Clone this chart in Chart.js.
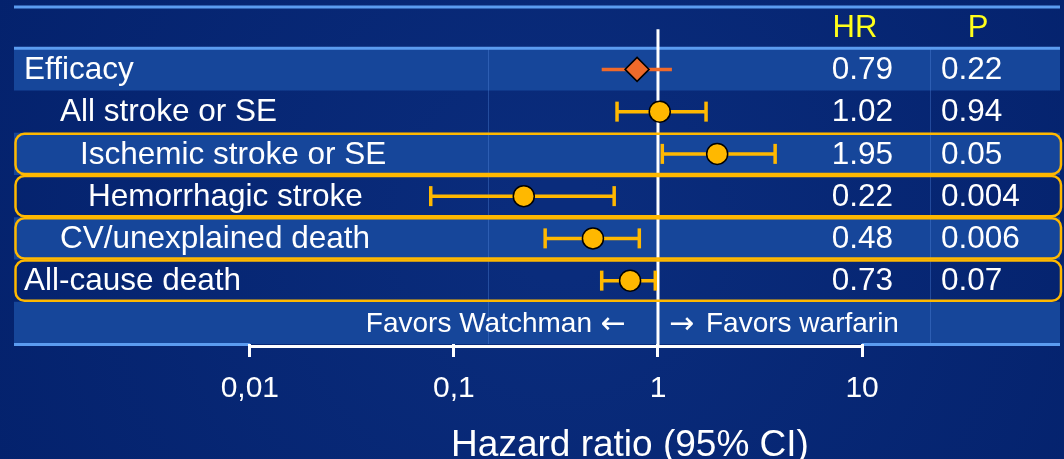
<!DOCTYPE html>
<html><head><meta charset="utf-8">
<script src="https://cdn.jsdelivr.net/npm/chart.js@4/dist/chart.umd.min.js"></script>
<style>html,body{margin:0;padding:0;background:#04236f;overflow:hidden}#wrap{width:1064px;height:459px}</style>
</head><body><div id="wrap"><canvas id="c" width="1064" height="459"></canvas></div>
<script>
// ---- data ----
const categories = ['Efficacy','All stroke or SE','Ischemic stroke or SE','Hemorrhagic stroke','CV/unexplained death','All-cause death'];
const hazardRatios = [0.79, 1.02, 1.95, 0.22, 0.48, 0.73];
const ciLower = [0.53, 0.63, 1.05, 0.077, 0.28, 0.53];
const ciUpper = [1.17, 1.72, 3.75, 0.61, 0.81, 0.97];
const hrLabels = ['0.79','1.02','1.95','0.22','0.48','0.73'];
const pValues = ['0.22','0.94','0.05','0.004','0.006','0.07'];
const tickValues = [0.01, 0.1, 1, 10];
const tickLabels = ['0,01','0,1','1','10'];
const columnHeaders = ['HR','P'];
const favorsLeft = 'Favors Watchman';
const favorsRight = 'Favors warfarin';
const arrowLeft = '\u2190', arrowRight = '\u2192';
const axisTitle = 'Hazard ratio (95% CI)';
const referenceValue = 1;

// ---- styles / layout ----
const FONT = "'Liberation Sans', Arial, sans-serif";
const ARROW_FONT = "'DejaVu Sans', sans-serif";
const labelIndent = [24, 60, 80, 88, 60, 24];
const boxedRows = [2, 3, 4, 5];
const TABLE_LEFT = 14;
const COL1_X = 488, COL2_X = 930;
const HR_RIGHT = 893, P_LEFT = 941;
const YELLOW = '#ffb800', ORANGE = '#f06a2a';
const NROWS = categories.length + 2;

const tablePlugin = {
  id: 'table',
  beforeDraw(chart) {
    const ctx = chart.ctx, ca = chart.chartArea, xs = chart.scales.x, ys = chart.scales.y;
    const W = chart.width, H = chart.height;
    const right = ca.right;
    // background
    const g = ctx.createRadialGradient(560, 230, 50, 560, 230, 720);
    g.addColorStop(0, '#0a2c7c'); g.addColorStop(1, '#03206a');
    ctx.save();
    ctx.fillStyle = g; ctx.fillRect(0, 0, W, H);
    // light bands
    ctx.fillStyle = '#16469a';
    for (let r = 1; r < NROWS; r += 2) {
      const t = ys.getPixelForValue(r), b = ys.getPixelForValue(r + 1);
      ctx.fillRect(TABLE_LEFT, t, right - TABLE_LEFT, b - t);
    }
    // column dividers
    ctx.strokeStyle = 'rgba(90,140,225,0.35)'; ctx.lineWidth = 1;
    [COL1_X, COL2_X].forEach(x => {
      ctx.beginPath(); ctx.moveTo(x + 0.5, ys.getPixelForValue(1)); ctx.lineTo(x + 0.5, ys.getPixelForValue(NROWS)); ctx.stroke();
    });
    // blue rules
    ctx.strokeStyle = '#5b9cf0'; ctx.lineWidth = 3;
    [0, 1].forEach(r => {
      const y = ys.getPixelForValue(r) + (r === 0 ? 1 : 0);
      ctx.beginPath(); ctx.moveTo(TABLE_LEFT, y); ctx.lineTo(right, y); ctx.stroke();
    });
    const xa = xs.getPixelForValue(tickValues[0]), xb = xs.getPixelForValue(tickValues[tickValues.length - 1]);
    const yb = ys.getPixelForValue(NROWS);
    ctx.beginPath(); ctx.moveTo(TABLE_LEFT, yb + 0.5); ctx.lineTo(xa, yb + 0.5); ctx.stroke();
    ctx.beginPath(); ctx.moveTo(xb, yb + 0.5); ctx.lineTo(right, yb + 0.5); ctx.stroke();
    // white axis line
    ctx.strokeStyle = '#ffffff';
    ctx.beginPath(); ctx.moveTo(xa - 1.5, yb + 2.5); ctx.lineTo(xb + 1.5, yb + 2.5); ctx.stroke();
    // reference line
    const xr = xs.getPixelForValue(referenceValue);
    ctx.beginPath(); ctx.moveTo(xr, ys.getPixelForValue(0.55)); ctx.lineTo(xr, yb + 3); ctx.stroke();
    // orange boxes
    ctx.strokeStyle = YELLOW; ctx.lineWidth = 2.5;
    boxedRows.forEach(i => {
      const r = i + 1;
      const t = ys.getPixelForValue(r) + 1, b = ys.getPixelForValue(r + 1) - 1;
      ctx.beginPath(); ctx.roundRect(TABLE_LEFT + 1.5, t, right - TABLE_LEFT - 0.5, b - t, 9); ctx.stroke();
    });
    // texts
    ctx.textBaseline = 'middle';
    const cy = r => ys.getPixelForValue(r + 0.5) + 1;
    ctx.font = '31px ' + FONT;
    ctx.fillStyle = '#ffff1a';
    ctx.textAlign = 'center';
    ctx.fillText(columnHeaders[0], 855, cy(0));
    ctx.fillText(columnHeaders[1], 978, cy(0));
    ctx.fillStyle = '#ffffff';
    categories.forEach((c, i) => {
      const y = cy(i + 1);
      ctx.font = '31.5px ' + FONT;
      ctx.textAlign = 'left'; ctx.fillText(c, labelIndent[i], y);
      ctx.textAlign = 'right'; ctx.fillText(hrLabels[i], HR_RIGHT, y);
      ctx.textAlign = 'left'; ctx.fillText(pValues[i], P_LEFT, y);
    });
    const yf = cy(NROWS - 1);
    ctx.font = '30px ' + ARROW_FONT;
    ctx.textAlign = 'right'; ctx.fillText(arrowLeft, xr - 32, yf + 1);
    ctx.textAlign = 'left'; ctx.fillText(arrowRight, xr + 11, yf + 1);
    ctx.font = '28px ' + FONT;
    ctx.textAlign = 'right'; ctx.fillText(favorsLeft, xr - 66, yf);
    ctx.textAlign = 'left'; ctx.fillText(favorsRight, xr + 48, yf);
    ctx.restore();
  },
  beforeDatasetsDraw(chart) {
    const ctx = chart.ctx, xs = chart.scales.x, ys = chart.scales.y;
    ctx.save();
    ctx.strokeStyle = YELLOW; ctx.lineWidth = 3.5;
    categories.forEach((c, i) => {
      if (i === 0) return;
      const y = ys.getPixelForValue(i + 1.5);
      [ciLower[i], ciUpper[i]].forEach(v => {
        const x = xs.getPixelForValue(v);
        ctx.beginPath(); ctx.moveTo(x, y - 10); ctx.lineTo(x, y + 10); ctx.stroke();
      });
    });
    ctx.restore();
  }
};

const pointDataset = {
  data: hazardRatios.map((v, i) => ({x: v, y: i + 1.5})),
  pointStyle: hazardRatios.map((v, i) => i === 0 ? 'rectRot' : 'circle'),
  pointRadius: hazardRatios.map((v, i) => i === 0 ? 12 : 10.5),
  pointBackgroundColor: hazardRatios.map((v, i) => i === 0 ? ORANGE : YELLOW),
  pointBorderColor: '#000000',
  pointBorderWidth: 1.5,
  showLine: false,
  order: 0
};
const ciDatasets = categories.map((c, i) => ({
  data: [{x: ciLower[i], y: i + 1.5}, {x: ciUpper[i], y: i + 1.5}],
  showLine: true,
  pointRadius: 0,
  borderColor: i === 0 ? ORANGE : YELLOW,
  borderWidth: 3.5,
  order: 1
}));

new Chart(document.getElementById('c'), {
  type: 'scatter',
  data: { datasets: [pointDataset, ...ciDatasets] },
  options: {
    responsive: false,
    animation: false,
    devicePixelRatio: 1,
    layout: { autoPadding: false, padding: { left: 200, right: 4, top: 6, bottom: 0 } },
    plugins: { legend: { display: false }, tooltip: { enabled: false } },
    scales: {
      x: {
        type: 'logarithmic',
        min: 0.0057, max: 93.3,
        bounds: 'data',
        afterBuildTicks: s => { s.ticks = tickValues.map(v => ({value: v})); },
        afterFit: s => { s.height = 115; s.paddingLeft = 0; s.paddingRight = 0; },
        ticks: {
          autoSkip: false, maxRotation: 0, minRotation: 0,
          padding: 14,
          color: '#ffffff',
          font: { family: FONT, size: 30 },
          callback: (v, idx) => tickLabels[idx]
        },
        grid: { display: true, drawOnChartArea: false, drawTicks: true, tickLength: 13, color: '#ffffff', lineWidth: 3 },
        border: { display: false },
        title: { display: true, text: axisTitle, color: '#ffffff', font: { family: FONT, size: 37, lineHeight: 0.7 }, padding: { top: 0, bottom: 0 } }
      },
      y: { type: 'linear', min: 0, max: NROWS, reverse: true, display: false }
    }
  },
  plugins: [tablePlugin]
});
</script></body></html>
